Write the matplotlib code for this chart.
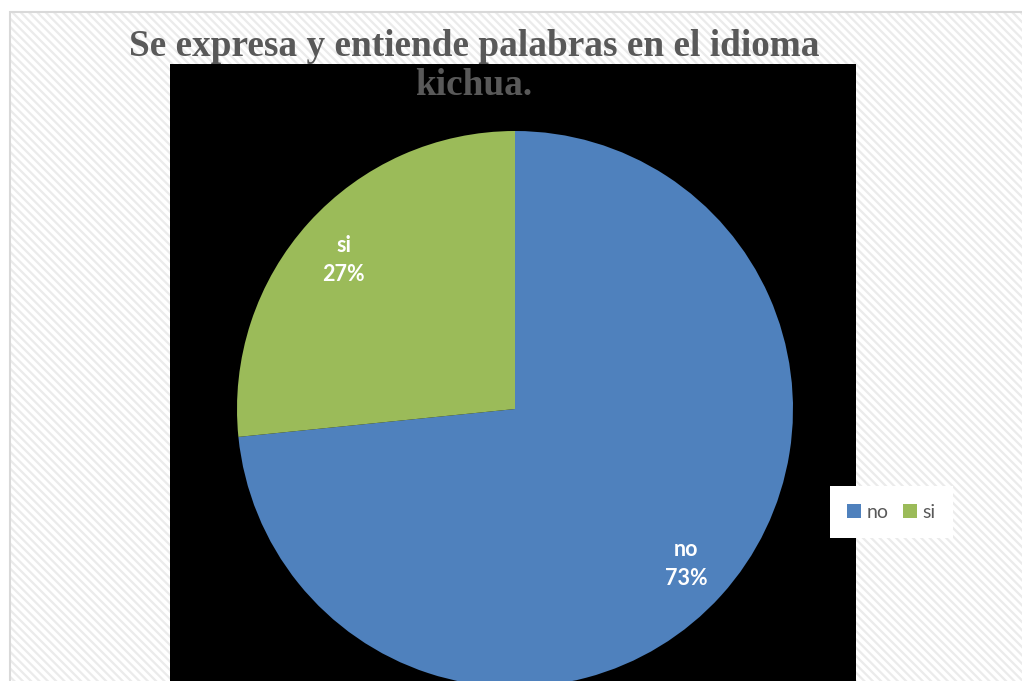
import matplotlib
matplotlib.use("AGG")
import matplotlib.pyplot as plt
from matplotlib.patches import Rectangle

# data
categories = ["no", "si"]
percents = [73.4, 26.6]
colors = ["#4F81BD", "#9BBB59"]
title = "Se expresa y entiende palabras en el idioma\nkichua."

W, H = 1022, 681
plt.rcParams["hatch.color"] = "#ebebeb"
plt.rcParams["hatch.linewidth"] = 1.6

fig = plt.figure(figsize=(W / 100, H / 100), dpi=100)
fig.patch.set_facecolor("white")


def px(x0, y0, x1, y1):
    # pixel box (top-left origin) -> figure fraction rect args
    return (x0 / W, 1 - y1 / H), (x1 - x0) / W, (y1 - y0) / H


# striped backdrop with light border
xy, w, h = px(10, 12, W + 10, H + 10)
fig.add_artist(Rectangle(xy, w, h, transform=fig.transFigure, facecolor="white",
                         edgecolor="#ebebeb", hatch="\\\\\\\\", linewidth=0, zorder=-3))
fig.add_artist(Rectangle(xy, w, h, transform=fig.transFigure, facecolor="none",
                         edgecolor="#d9d9d9", linewidth=1.5, zorder=-2))

# black plot area
xy, w, h = px(170, 64, 856, H + 5)
fig.add_artist(Rectangle(xy, w, h, transform=fig.transFigure, facecolor="black",
                         edgecolor="none", zorder=-1))

# pie
cx, cy, r = 515, 409, 278
ax = fig.add_axes([(cx - r) / W, 1 - (cy + r) / H, 2 * r / W, 2 * r / H])
ax.patch.set_visible(False)
ax.axis("off")

labels_it = iter(categories)
wedges, _, autotexts = ax.pie(
    percents, colors=colors, startangle=90, counterclock=False, radius=1,
    autopct=lambda p: "{}\n{:.0f}%".format(next(labels_it), p),
    pctdistance=0.83, wedgeprops=dict(linewidth=0),
    textprops=dict(color="white", fontsize=15.5, fontweight="bold", family="Lato"))
for t in autotexts:
    t.set_linespacing(1.45)
autotexts[1].set_y(autotexts[1].get_position()[1] - 0.02)
ax.set_xlim(-1, 1)
ax.set_ylim(-1, 1)

fig.text(474 / W, 1 - 66 / H, title, ha="center", va="center", fontsize=26.8,
         fontweight="bold", family="Liberation Serif", color="#595959",
         linespacing=1.17)

handles = [Rectangle((0, 0), 1, 1, facecolor=c, edgecolor="none") for c in colors]
leg = fig.legend(handles, categories, loc="center", bbox_to_anchor=(891.5 / W, 1 - 512 / H),
                 ncol=2, frameon=True, fancybox=False, framealpha=1, edgecolor="none",
                 handlelength=0.7, handleheight=0.7, handletextpad=0.3,
                 columnspacing=0.75, borderpad=0.9, borderaxespad=0,
                 prop=dict(family="Lato", size=14))
for t in leg.get_texts():
    t.set_color("#595959")

fig.savefig("out.png", dpi=100)
